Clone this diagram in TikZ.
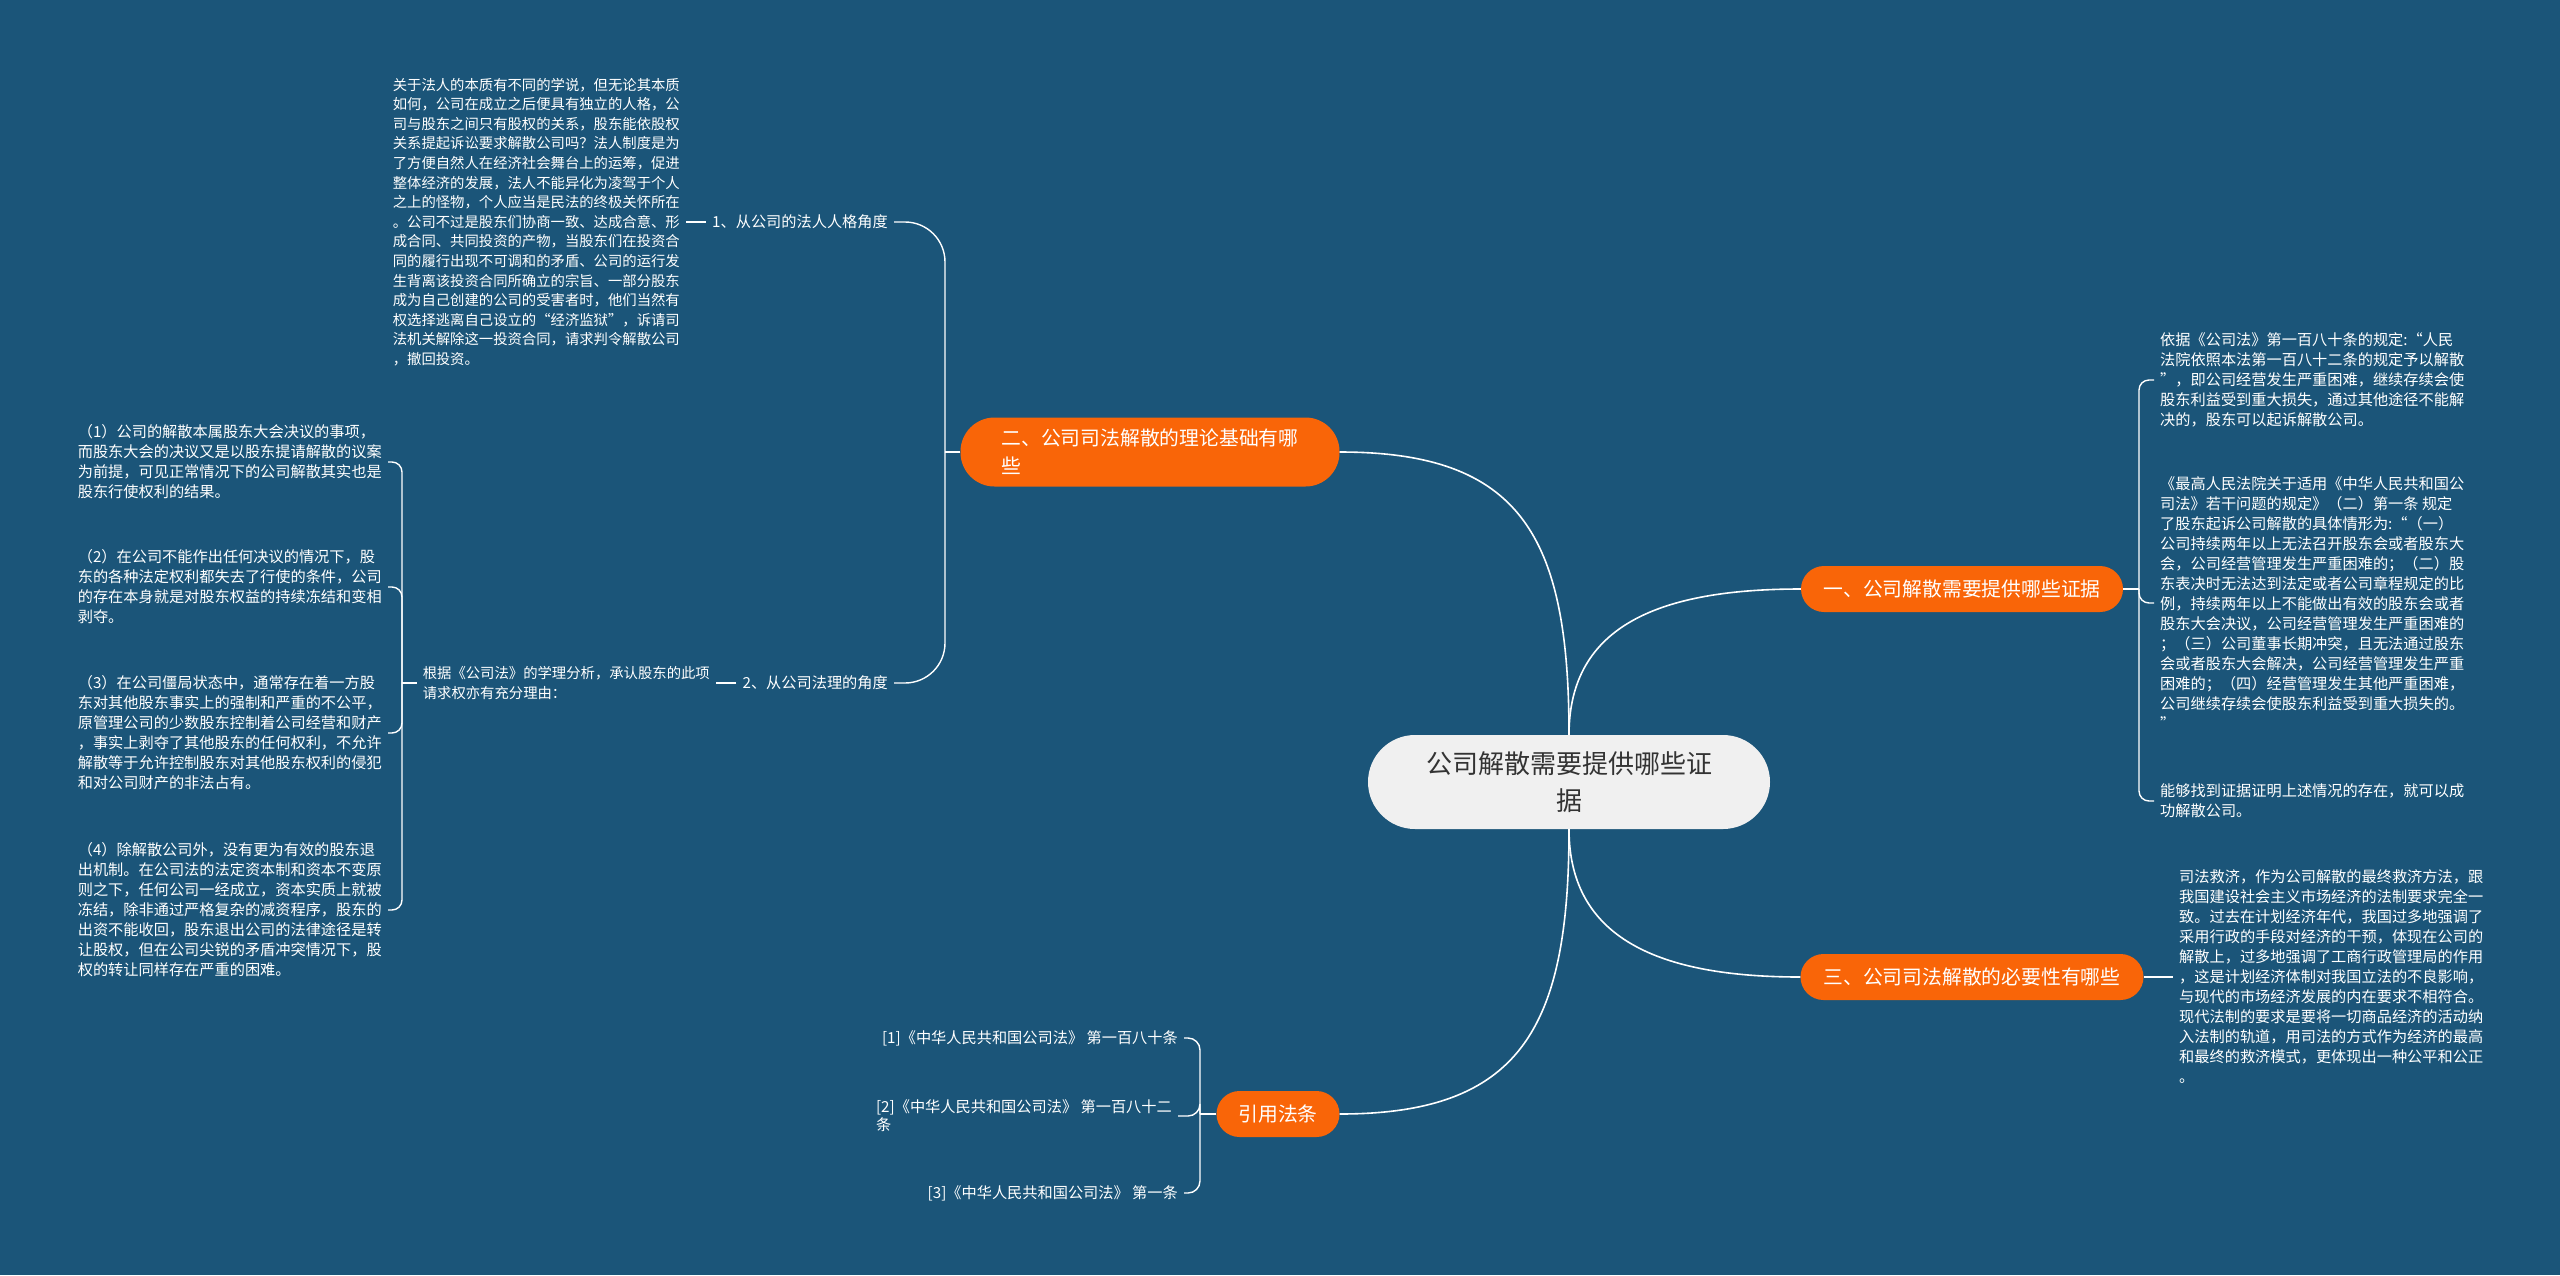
\documentclass[tikz,border=0pt]{standalone}
\usepackage{fontspec}
\newfontfamily\cjk{Noto Sans CJK SC}
\usepackage{tikz}
\usetikzlibrary{positioning, calc}
\definecolor{bgblue}{HTML}{1B5579}
\definecolor{topicorange}{HTML}{F96508}
\definecolor{rootgray}{HTML}{F0F0F0}
\tikzset{
    root_node/.style={rectangle, fill=rootgray, text=black!80, rounded corners=47pt, minimum width=402pt, minimum height=94pt, align=center, font=\cjk\fontsize{26}{37}\selectfont},
    topic_orange/.style={rectangle, fill=topicorange, text=white, rounded corners=23pt, minimum height=46pt, align=left, font=\cjk\fontsize{19.8}{28}\selectfont},
    leaf_text/.style={text=white, align=left, inner sep=6pt, font=\cjk\fontsize{15.2}{20}\selectfont},
    leaf_small/.style={leaf_text, font=\cjk\fontsize{14.35}{19.6}\selectfont},
    link_line/.style={draw=white, line width=1.6pt},
    brace_line/.style={draw=white, line width=1.4pt}
}
\begin{document}
\begin{tikzpicture}[x=1pt, y=-1pt]
            % Background
            \useasboundingbox (0,0) rectangle (2560,1275);
            \fill[bgblue] (0,0) rectangle (2560,1275);

            % Root and main topics
            \node (root) at (1569,782) [root_node] {公司解散需要提供哪些证\\据};
            \node (t2) at (1150,452) [topic_orange, minimum width=379pt, minimum height=69pt, rounded corners=34pt] {二、公司司法解散的理论基础有哪\\些};
            \node (t1) at (1962,589) [topic_orange, minimum width=322pt] {一、公司解散需要提供哪些证据};
            \node (t3) at (1972,977) [topic_orange, minimum width=343pt] {三、公司司法解散的必要性有哪些};
            \node (t4) at (1278,1114) [topic_orange, minimum width=123pt] {引用法条};

            \draw[link_line] (root.north) .. controls +(0,-200) and +(180,0) .. (t2.east);
            \draw[link_line] (root.north) .. controls +(0,-110) and +(-140,0) .. (t1.west);
            \draw[link_line] (root.south) .. controls +(0,110) and +(-140,0) .. (t3.west);
            \draw[link_line] (root.south) .. controls +(0,200) and +(180,0) .. (t4.east);

            % Left branch: theory
            \node (a1) at (894,222) [leaf_text, anchor=east] {1、从公司的法人人格角度};
            \node (a2) at (894,683) [leaf_text, anchor=east] {2、从公司法理的角度};
            \coordinate (bl) at (945,452);
            \draw[brace_line] (t2.west) -- (bl);
            \draw[brace_line, rounded corners=40pt] (bl) |- (a1.east);
            \draw[brace_line, rounded corners=40pt] (bl) |- (a2.east);

            \node (a1x) at (686,222) [leaf_small, anchor=east] {关于法人的本质有不同的学说，但无论其本质\\如何，公司在成立之后便具有独立的人格，公\\司与股东之间只有股权的关系，股东能依股权\\关系提起诉讼要求解散公司吗？法人制度是为\\了方便自然人在经济社会舞台上的运筹，促进\\整体经济的发展，法人不能异化为凌驾于个人\\之上的怪物，个人应当是民法的终极关怀所在\\。公司不过是股东们协商一致、达成合意、形\\成合同、共同投资的产物，当股东们在投资合\\同的履行出现不可调和的矛盾、公司的运行发\\生背离该投资合同所确立的宗旨、一部分股东\\成为自己创建的公司的受害者时，他们当然有\\权选择逃离自己设立的“经济监狱”，诉请司\\法机关解除这一投资合同，请求判令解散公司\\，撤回投资。};
            \draw[brace_line] (a1.west) -- (a1x.east);

            \node (a2x) at (716,683) [leaf_small, anchor=east] {根据《公司法》的学理分析，承认股东的此项\\请求权亦有充分理由：};
            \draw[brace_line] (a2.west) -- (a2x.east);

            % Reasons (1)-(4)
            \node (b1) at (388,462) [leaf_text, anchor=east] {（1）公司的解散本属股东大会决议的事项，\\而股东大会的决议又是以股东提请解散的议案\\为前提，可见正常情况下的公司解散其实也是\\股东行使权利的结果。};
            \node (b2) at (388,587) [leaf_text, anchor=east] {（2）在公司不能作出任何决议的情况下，股\\东的各种法定权利都失去了行使的条件，公司\\的存在本身就是对股东权益的持续冻结和变相\\剥夺。};
            \node (b3) at (388,733) [leaf_text, anchor=east] {（3）在公司僵局状态中，通常存在着一方股\\东对其他股东事实上的强制和严重的不公平，\\原管理公司的少数股东控制着公司经营和财产\\，事实上剥夺了其他股东的任何权利，不允许\\解散等于允许控制股东对其他股东权利的侵犯\\和对公司财产的非法占有。};
            \node (b4) at (388,910) [leaf_text, anchor=east] {（4）除解散公司外，没有更为有效的股东退\\出机制。在公司法的法定资本制和资本不变原\\则之下，任何公司一经成立，资本实质上就被\\冻结，除非通过严格复杂的减资程序，股东的\\出资不能收回，股东退出公司的法律途径是转\\让股权，但在公司尖锐的矛盾冲突情况下，股\\权的转让同样存在严重的困难。};
            \coordinate (bb) at (402,683);
            \draw[brace_line] (a2x.west) -- (bb);
            \foreach \n in {b1,b2,b3,b4}
                \draw[brace_line, rounded corners=10pt] (bb) |- (\n.east);

            % Right branch: evidence
            \node (c1) at (2154,380) [leaf_text, anchor=west] {依据《公司法》第一百八十条的规定:“人民\\法院依照本法第一百八十二条的规定予以解散\\”，即公司经营发生严重困难，继续存续会使\\股东利益受到重大损失，通过其他途径不能解\\决的，股东可以起诉解散公司。};
            \node (c2) at (2154,603) [leaf_text, anchor=west] {《最高人民法院关于适用《中华人民共和国公\\司法》若干问题的规定》（二）第一条 规定\\了股东起诉公司解散的具体情形为:“（一）\\公司持续两年以上无法召开股东会或者股东大\\会，公司经营管理发生严重困难的；（二）股\\东表决时无法达到法定或者公司章程规定的比\\例，持续两年以上不能做出有效的股东会或者\\股东大会决议，公司经营管理发生严重困难的\\；（三）公司董事长期冲突，且无法通过股东\\会或者股东大会解决，公司经营管理发生严重\\困难的；（四）经营管理发生其他严重困难，\\公司继续存续会使股东利益受到重大损失的。\\”};
            \node (c3) at (2154,801) [leaf_text, anchor=west] {能够找到证据证明上述情况的存在，就可以成\\功解散公司。};
            \coordinate (br) at (2139,589);
            \draw[brace_line] (t1.east) -- (br);
            \foreach \n in {c1,c2,c3}
                \draw[brace_line, rounded corners=10pt] (br) |- (\n.west);

            % Right branch: necessity
            \node (d1) at (2173,977) [leaf_text, anchor=west] {司法救济，作为公司解散的最终救济方法，跟\\我国建设社会主义市场经济的法制要求完全一\\致。过去在计划经济年代，我国过多地强调了\\采用行政的手段对经济的干预，体现在公司的\\解散上，过多地强调了工商行政管理局的作用\\，这是计划经济体制对我国立法的不良影响，\\与现代的市场经济发展的内在要求不相符合。\\现代法制的要求是要将一切商品经济的活动纳\\入法制的轨道，用司法的方式作为经济的最高\\和最终的救济模式，更体现出一种公平和公正\\。};
            \draw[brace_line] (t3.east) -- (d1.west);

            % Citations
            \node (e1) at (1184,1038) [leaf_text, anchor=east] {[1]《中华人民共和国公司法》 第一百八十条};
            \node (e2) at (1178,1116) [leaf_text, anchor=east, font=\cjk\fontsize{15.2}{18}\selectfont] {[2]《中华人民共和国公司法》 第一百八十二\\条};
            \node (e3) at (1184,1193) [leaf_text, anchor=east] {[3]《中华人民共和国公司法》 第一条};
            \coordinate (bc) at (1200,1114);
            \draw[brace_line] (t4.west) -- (bc);
            \foreach \n in {e1,e2,e3}
                \draw[brace_line, rounded corners=12pt] (bc) |- (\n.east);
\end{tikzpicture}
\end{document}
